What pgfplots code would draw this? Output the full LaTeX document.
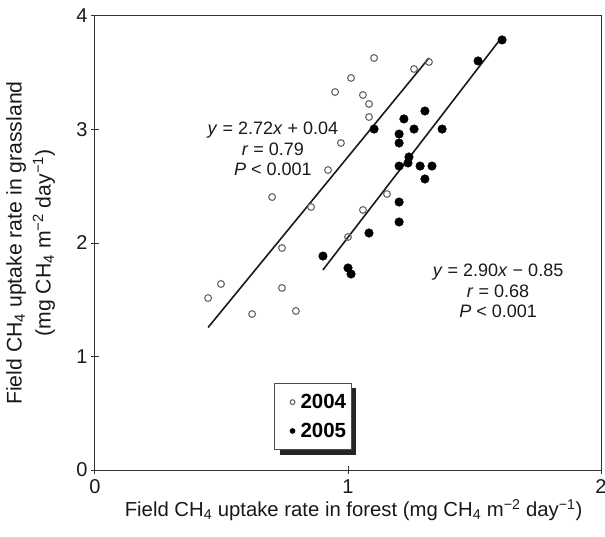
\documentclass[border=0pt]{standalone}
\usepackage{fontspec}
\setmainfont{Liberation Sans}
\usepackage{pgfplots}
\pgfplotsset{compat=1.18}
\usetikzlibrary{shadows}
\begin{document}
\begin{tikzpicture}
\begin{axis}[
  at={(0,0)}, anchor=south west,
  scale only axis, width=506pt, height=454pt,
  xmin=0, xmax=2, ymin=0, ymax=4,
  xtick={0,1,2}, ytick={0,1,2,3,4},
  tick align=center, major tick length=8pt,
  xtick pos=bottom, ytick pos=left,
  axis line style={black!80, line width=1pt},
  tick style={black!80, line width=1pt},
  /pgf/number format/assume math mode=true,
  ticklabel style={font=\fontsize{20}{22}\selectfont, text=black!90},
  xticklabel style={yshift=-2pt},
  yticklabel style={xshift=0pt},
  xlabel={Field CH\textsubscript{4} uptake rate in forest (mg CH\textsubscript{4} m\textsuperscript{−2} day\textsuperscript{−1})},
  ylabel={Field CH\textsubscript{4} uptake rate in grassland\\(mg CH\textsubscript{4} m\textsuperscript{−2} day\textsuperscript{−1})},
  label style={font=\fontsize{20.3}{28}\selectfont, text=black!90},
  xlabel style={at={(axis description cs:0.511,-0.088)}, anchor=center},
  ylabel style={at={(axis description cs:-0.127,0.5)}, anchor=center, align=center,
    font=\fontsize{21.2}{29}\selectfont},
  legend style={at={(axis description cs:0.354,0.192)}, anchor=north west,
    draw=black!70, line width=0.8pt, fill=white,
    drop shadow={shadow xshift=5pt, shadow yshift=-5pt, fill=black!85, opacity=1},
    font=\bfseries\fontsize{20.5}{24}\selectfont, inner xsep=3pt, inner ysep=9pt,
    row sep=9pt},
  legend cell align=left,
  legend image code/.code={\pgfpathmoveto{\pgfqpoint{0pt}{0pt}}\pgfpathmoveto{\pgfqpoint{21pt}{0pt}}\pgfusepath{}\draw[#1, mark size=2.4pt] plot coordinates {(15pt,0pt)};},
]
\addplot[only marks, mark=o, mark size=3.4pt, draw=black!60, line width=1.1pt] coordinates {
(0.447,1.515) (0.498,1.639) (0.621,1.374) (0.700,2.405) (0.739,1.956)
(0.739,1.604) (0.794,1.401) (0.854,2.317) (0.921,2.643) (0.949,3.330)
(0.972,2.881) (1.000,2.053) (1.012,3.454) (1.059,3.304) (1.059,2.291)
(1.083,3.225) (1.083,3.110) (1.103,3.630) (1.154,2.432) (1.261,3.533)
(1.320,3.595)
};
\addlegendentry{2004}
\addplot[only marks, mark=*, mark size=4.3pt, draw=black, fill=black] coordinates {
(0.901,1.885) (1.000,1.780) (1.012,1.727) (1.083,2.088) (1.103,3.004)
(1.202,2.960) (1.202,2.881) (1.202,2.678) (1.202,2.361) (1.202,2.185)
(1.221,3.093) (1.241,2.758) (1.237,2.705) (1.261,3.004) (1.285,2.678)
(1.304,3.163) (1.304,2.564) (1.332,2.678) (1.372,3.004) (1.514,3.604)
(1.609,3.789)
};
\addlegendentry{2005}
\addplot[black!90, line width=1.6pt, forget plot] coordinates {(0.447,1.256) (1.320,3.630)};
\addplot[black!90, line width=1.6pt, forget plot] coordinates {(0.901,1.763) (1.609,3.816)};
\node[align=center, inner sep=0pt, font=\fontsize{18}{20.5}\selectfont, text=black!90] at (axis cs:0.703,2.828)
  {\textit{y} = 2.72\textit{x} + 0.04\\\textit{r} = 0.79\\\textit{P} < 0.001};
\node[align=center, inner sep=0pt, font=\fontsize{18}{20.5}\selectfont, text=black!90] at (axis cs:1.593,1.577)
  {\textit{y} = 2.90\textit{x} − 0.85\\\textit{r} = 0.68\\\textit{P} < 0.001};
\end{axis}
\pgfresetboundingbox
\path[use as bounding box] (-95pt,-66pt) rectangle (510pt,470pt);
\end{tikzpicture}
\end{document}
